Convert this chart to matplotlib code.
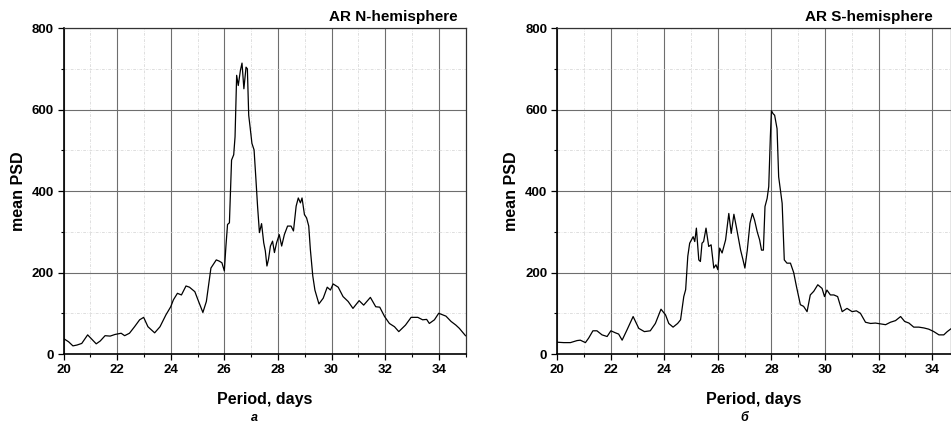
import matplotlib
matplotlib.use('Agg')
import matplotlib.pyplot as plt
from matplotlib.ticker import MultipleLocator

#---    Mean PSD vs period, N-hemisphere
period_n = [20.0, 20.19, 20.35, 20.5, 20.68, 20.9, 21.06, 21.22, 21.37, 21.55, 21.74, 21.92, 22.15, 22.28, 22.46,
            22.65, 22.84, 22.99, 23.15, 23.4, 23.6, 23.82, 24.0, 24.1, 24.25, 24.4, 24.57, 24.7, 24.9, 25.04,
            25.2, 25.33, 25.5, 25.7, 25.81, 25.91, 26.0, 26.06, 26.12, 26.19, 26.27, 26.35, 26.4, 26.46, 26.52,
            26.6, 26.66, 26.73, 26.81, 26.86, 26.91, 26.96, 27.03, 27.11, 27.18, 27.24, 27.31, 27.39, 27.47, 27.53,
            27.59, 27.65, 27.72, 27.8, 27.87, 27.95, 28.05, 28.14, 28.24, 28.36, 28.49, 28.58, 28.68, 28.76, 28.84,
            28.9, 28.99, 29.07, 29.15, 29.21, 29.3, 29.38, 29.53, 29.69, 29.84, 29.96, 30.06, 30.25, 30.43, 30.62,
            30.8, 31.03, 31.2, 31.45, 31.65, 31.8, 31.98, 32.16, 32.35, 32.51, 32.76, 32.97, 33.22, 33.4, 33.55,
            33.65, 33.84, 34.0, 34.27, 34.46, 34.64, 34.77, 35.0]
psd_n = [38, 30, 20, 22, 26, 47, 36, 25, 32, 45, 44, 48, 51, 45, 51,
         67, 84, 90, 67, 52, 67, 96, 116, 133, 149, 145, 167, 164, 153, 129,
         102, 129, 211, 231, 228, 224, 204, 265, 318, 322, 476, 489, 533, 684, 659,
         696, 714, 651, 704, 700, 586, 558, 517, 501, 428, 363, 298, 320, 273, 253,
         216, 233, 265, 277, 249, 273, 293, 265, 293, 314, 314, 302, 363, 383, 371,
         383, 342, 334, 314, 257, 192, 157, 123, 137, 164, 157, 172, 164, 141, 129,
         112, 131, 120, 139, 116, 115, 92, 75, 67, 55, 71, 90, 90, 84, 85,
         75, 84, 100, 93, 80, 71, 63, 45]

#---    Mean PSD vs period, S-hemisphere
period_s = [20.0, 20.25, 20.5, 20.75, 20.87, 21.06, 21.18, 21.34, 21.49, 21.68, 21.87, 22.01, 22.18, 22.3, 22.43,
            22.61, 22.84, 23.05, 23.26, 23.48, 23.67, 23.88, 24.05, 24.17, 24.33, 24.5, 24.61, 24.73, 24.8, 24.88,
            24.95, 25.08, 25.14, 25.2, 25.29, 25.35, 25.41, 25.47, 25.56, 25.66, 25.75, 25.85, 25.93, 26.0, 26.07,
            26.16, 26.29, 26.41, 26.5, 26.6, 26.7, 26.85, 26.94, 27.01, 27.1, 27.2, 27.29, 27.37, 27.47, 27.56,
            27.63, 27.7, 27.76, 27.84, 27.9, 27.96, 28.0, 28.06, 28.12, 28.21, 28.27, 28.4, 28.48, 28.58, 28.71,
            28.83, 28.93, 29.08, 29.2, 29.33, 29.45, 29.58, 29.73, 29.89, 29.98, 30.07, 30.2, 30.33, 30.47, 30.64,
            30.82, 31.01, 31.17, 31.32, 31.51, 31.7, 31.88, 32.07, 32.26, 32.44, 32.63, 32.82, 32.97, 33.13, 33.31,
            33.5, 33.69, 33.87, 34.06, 34.25, 34.43, 34.56, 34.7]
psd_s = [29, 28, 28, 33, 34, 28, 39, 57, 57, 47, 43, 57, 52, 49, 34,
         59, 92, 63, 55, 57, 75, 110, 96, 75, 66, 75, 84, 141, 158, 240,
         272, 288, 276, 309, 231, 227, 272, 276, 309, 264, 268, 211, 219, 207, 260,
         248, 280, 345, 296, 343, 309, 255, 231, 211, 255, 321, 345, 329, 300, 280,
         255, 255, 362, 382, 411, 533, 597, 590, 586, 553, 435, 370, 231, 223, 223,
         200, 167, 121, 117, 104, 145, 154, 170, 161, 141, 157, 145, 145, 141, 104,
         112, 104, 106, 100, 78, 75, 76, 74, 72, 78, 82, 92, 80, 76, 66,
         66, 64, 61, 55, 47, 47, 55, 62]

titles = ['AR N-hemisphere', 'AR S-hemisphere']
captions = ['а', 'б']
x_right = [35, 34.7]
title_inset = [0.02, 0.046]

plt.rcParams['font.family'] = ['Liberation Sans', 'DejaVu Sans']
fs_label = 11.5
fs_ticks = 9.5

fig = plt.figure(figsize=(9.51, 4.25), dpi=100)
ax1 = fig.add_axes([0.0668, 0.167, 0.4227, 0.767])
ax2 = fig.add_axes([0.5857, 0.167, 0.4143, 0.767])

for ax, x, y, title, cap, xr, ins in zip([ax1, ax2], [period_n, period_s], [psd_n, psd_s], titles, captions, x_right, title_inset):
    ax.plot(x, y, color='black', linewidth=0.9)
    ax.set_xlim(20, xr)
    ax.set_ylim(0, 800)
    ax.xaxis.set_major_locator(MultipleLocator(2))
    ax.xaxis.set_minor_locator(MultipleLocator(1))
    ax.yaxis.set_major_locator(MultipleLocator(200))
    ax.yaxis.set_minor_locator(MultipleLocator(100))

    #---    Grid: solid at major ticks, faint dash-dot at minor ones
    ax.grid(which='major', color='#6e6e6e', linewidth=0.8, linestyle='solid')
    ax.grid(which='minor', color='#d2d2d2', linewidth=0.5, linestyle=(0, (4, 2, 1, 2)))
    ax.set_axisbelow(True)

    for side in ['left', 'bottom']:
        ax.spines[side].set_linewidth(1.2)
        ax.spines[side].set_color('black')
    for side in ['top', 'right']:
        ax.spines[side].set_linewidth(0.9)
        ax.spines[side].set_color('#333333')

    ax.tick_params(which='major', direction='out', length=4, width=0.9, labelsize=fs_ticks, pad=3)
    ax.tick_params(which='minor', direction='out', length=2.5, width=0.8)
    for lab in ax.get_xticklabels() + ax.get_yticklabels():
        lab.set_fontweight('bold')

    ax.set_xlabel('Period, days', fontsize=fs_label, weight='bold', labelpad=12)
    ax.set_ylabel('mean PSD', fontsize=fs_label, weight='bold', labelpad=4)
    ax.text(1 - ins, 1.012, title, transform=ax.transAxes, fontsize=11, weight='bold', ha='right', va='bottom')

    pos = ax.get_position()
    fig.text(pos.x0 + pos.width * 0.475, 0.0094, cap, fontsize=9, weight='bold', style='italic', ha='center', va='baseline')

plt.savefig('out.png', dpi=100)
